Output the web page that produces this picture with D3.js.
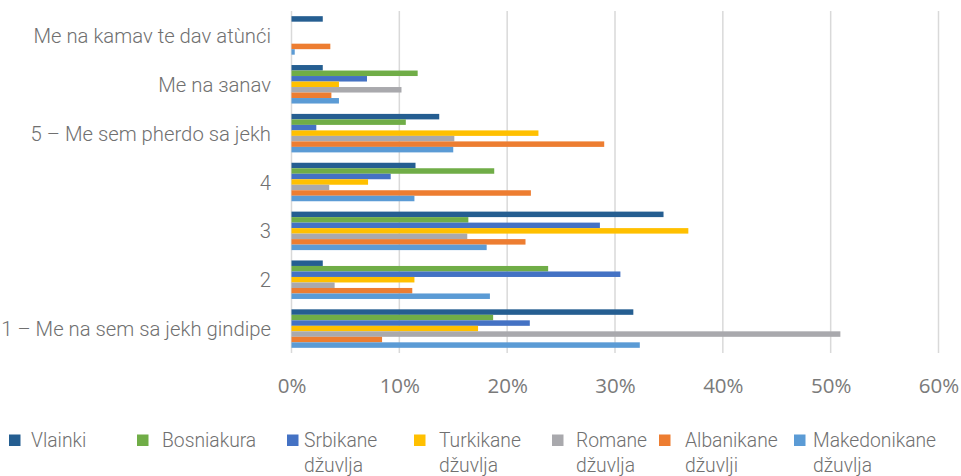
<!DOCTYPE html>
<html>
<head>
<meta charset="utf-8">
<script src="https://cdn.jsdelivr.net/npm/d3@7"></script>
<style>
  html, body { margin: 0; padding: 0; background: #fff; }
  svg { display: block; }
</style>
</head>
<body>
<svg id="chart" width="961" height="476"></svg>
<script>
// Answer categories, listed top to bottom
const categories = [
  "Me na kamav te dav atùnći",
  "Me na зanav",
  "5 – Me sem pherdo sa jekh",
  "4",
  "3",
  "2",
  "1 – Me na sem sa jekh gindipe"
];

// Series (groups of respondents), in legend order
const seriesNames = [
  "Vlainki",
  "Bosniakura",
  "Srbikane džuvlja",
  "Turkikane džuvlja",
  "Romane džuvlja",
  "Albanikane džuvlji",
  "Makedonikane džuvlja"
];

// Share of answers (%) per series, one value per category (top to bottom)
const vlainki      = [2.9, 2.9, 13.7, 11.5, 34.5, 2.9, 31.7];
const bosniakura   = [0.0, 11.7, 10.6, 18.8, 16.4, 23.8, 18.7];
const srbikane     = [0.0, 7.0, 2.3, 9.2, 28.6, 30.5, 22.1];
const turkikane    = [0.0, 4.4, 22.9, 7.1, 36.8, 11.4, 17.3];
const romane       = [0.0, 10.2, 15.1, 3.5, 16.3, 4.0, 50.9];
const albanikane   = [3.6, 3.7, 29.0, 22.2, 21.7, 11.2, 8.4];
const makedonikane = [0.3, 4.4, 15.0, 11.4, 18.1, 18.4, 32.3];

const seriesValues = [vlainki, bosniakura, srbikane, turkikane, romane, albanikane, makedonikane];

// X axis ticks (%)
const xTicks = [0, 10, 20, 30, 40, 50, 60];

const colors = ["#255E91", "#70AD47", "#4472C4", "#FFC000", "#A9A9AD", "#ED7D31", "#5B9BD5"];

const svg = d3.select("#chart");

const plot = { left: 291.5, right: 938.5, top: 11, bottom: 353 };

const x = d3.scaleLinear().domain([0, 60]).range([plot.left, plot.right]);

const y = d3.scaleBand()
  .domain(categories)
  .range([plot.top, plot.bottom])
  .paddingInner(0.212)
  .paddingOuter(0.106);

const ySeries = d3.scaleBand()
  .domain(d3.range(seriesNames.length))
  .range([0, y.bandwidth()]);

// Vertical gridlines
svg.append("g")
  .selectAll("line")
  .data(xTicks)
  .join("line")
  .attr("x1", d => x(d)).attr("x2", d => x(d))
  .attr("y1", plot.top).attr("y2", plot.bottom)
  .attr("stroke", "#D9D9D9")
  .attr("stroke-width", 1.5);

// Bars
const table = [];
categories.forEach((c, ci) => {
  seriesValues.forEach((vals, si) => {
    table.push({ category: c, series: si, value: vals[ci] });
  });
});

svg.append("g")
  .selectAll("rect")
  .data(table.filter(d => d.value > 0))
  .join("rect")
  .attr("x", x(0))
  .attr("y", d => y(d.category) + ySeries(d.series))
  .attr("width", d => x(d.value) - x(0))
  .attr("height", ySeries.bandwidth())
  .attr("fill", d => colors[d.series]);

// X axis tick labels
const xAxis = d3.axisBottom(x)
  .tickValues(xTicks)
  .tickFormat(d => d + "%")
  .tickSize(0)
  .tickPadding(0);

const gx = svg.append("g")
  .attr("transform", `translate(0, ${plot.bottom})`)
  .call(xAxis);
gx.select(".domain").remove();
gx.selectAll("text")
  .attr("dy", null)
  .attr("y", 40)
  .attr("font-family", "'Open Sans', sans-serif")
  .attr("font-size", 20.5)
  .attr("fill", "#7A7A7A");

// Y axis category labels
const yAxis = d3.axisLeft(y).tickSize(0).tickPadding(0);
const gy = svg.append("g")
  .attr("transform", `translate(271, 0)`)
  .call(yAxis);
gy.select(".domain").remove();
gy.selectAll("text")
  .attr("dy", null)
  .attr("x", 0)
  .attr("y", 7.5)
  .attr("font-family", "Roboto, sans-serif")
  .attr("font-weight", 300)
  .attr("font-size", 20.3)
  .attr("fill", "#707070");

// Legend: marker plus label, long labels wrapped onto a second line
const legendX = [9, 137, 287, 414, 552, 659, 794];
const legendTextGap = [22, 25, 17, 25, 24, 26, 19];
const legend = svg.append("g");
seriesNames.forEach((name, i) => {
  const g = legend.append("g").attr("transform", `translate(${legendX[i]}, 0)`);
  g.append("rect")
    .attr("x", 0).attr("y", 434.5)
    .attr("width", 11.5).attr("height", 11.5)
    .attr("fill", colors[i]);
  const words = name.split(" ");
  const t = g.append("text")
    .attr("font-family", "Roboto, sans-serif")
    .attr("font-weight", 300)
    .attr("font-size", 19.3)
    .attr("fill", "#707070");
  words.forEach((w, wi) => {
    t.append("tspan")
      .attr("x", legendTextGap[i])
      .attr("y", 446.5 + wi * 25)
      .text(w);
  });
});
</script>
</body>
</html>
